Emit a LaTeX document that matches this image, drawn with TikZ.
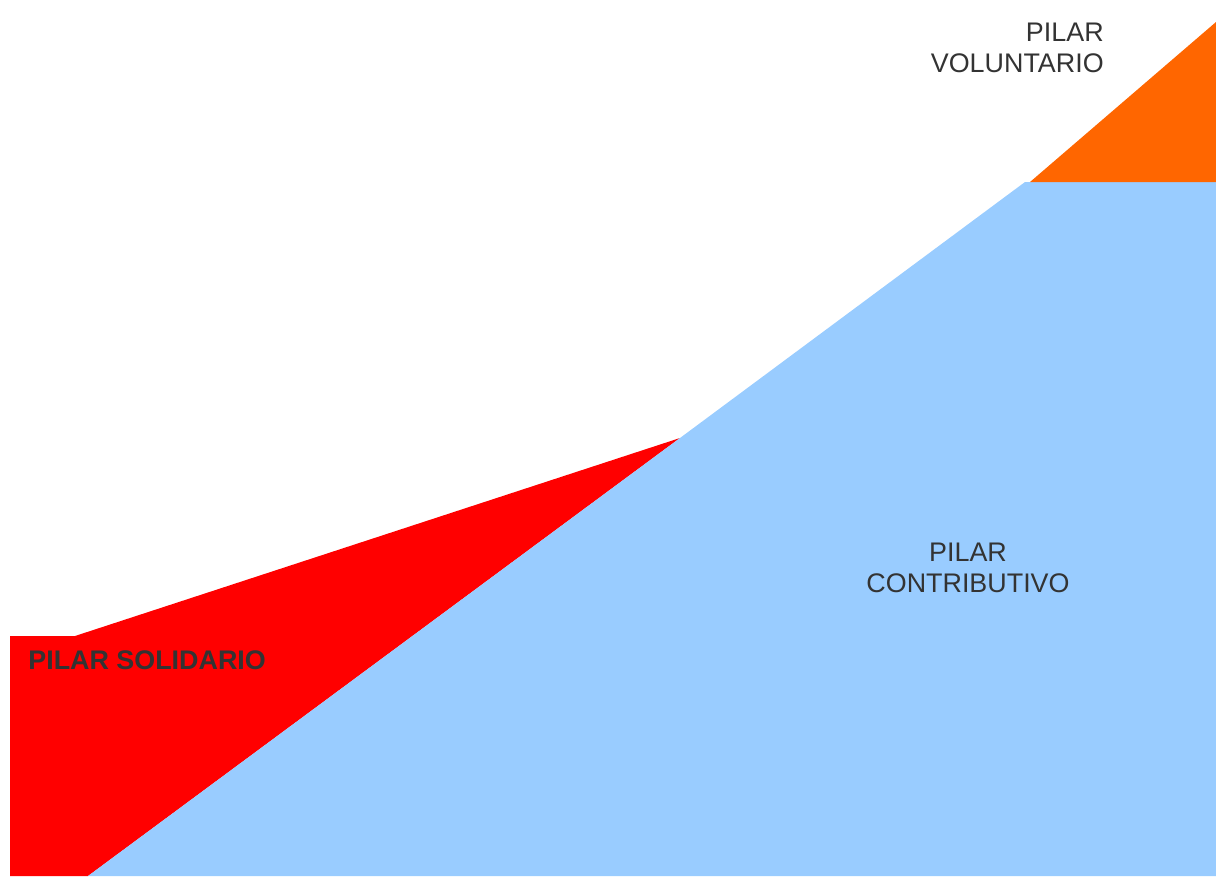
\documentclass[tikz,border=0pt]{standalone}
\usepackage{fontspec}
\setmainfont{Liberation Sans}
\usepackage{color}
\definecolor{solidred}{HTML}{FF0000}
\definecolor{contribblue}{HTML}{99CCFF}
\definecolor{volorange}{HTML}{FF6600}
\definecolor{labelgray}{HTML}{333333}

\begin{document}
\begin{tikzpicture}[x=0.02cm,y=-0.02cm]
				\tikzset{pilar label/.style={text=labelgray,font=\fontsize{15.3}{17.6}\selectfont,inner sep=0pt}}
				\useasboundingbox (0,0) rectangle (1216,876);
				% areas
				\fill[solidred] (10,636) -- (75,636) -- (680,438) -- (88,876) -- (10,876) -- cycle;
				\fill[contribblue] (88,876) -- (680,438) -- (1025,182) -- (1216,182) -- (1216,876) -- cycle;
				\fill[volorange] (1030,182) -- (1216,22) -- (1216,182) -- cycle;
				% labels
				\node[pilar label,align=right,anchor=north east] (voluntario) at (1104,23) {PILAR\\VOLUNTARIO};
				\node[pilar label,align=center] (contributivo) at (968,568) {PILAR\\CONTRIBUTIVO};
				\node[pilar label,font=\fontsize{15.3}{17.6}\selectfont\bfseries,anchor=west] (solidario) at (28,660) {PILAR SOLIDARIO};
			\end{tikzpicture}
\end{document}
